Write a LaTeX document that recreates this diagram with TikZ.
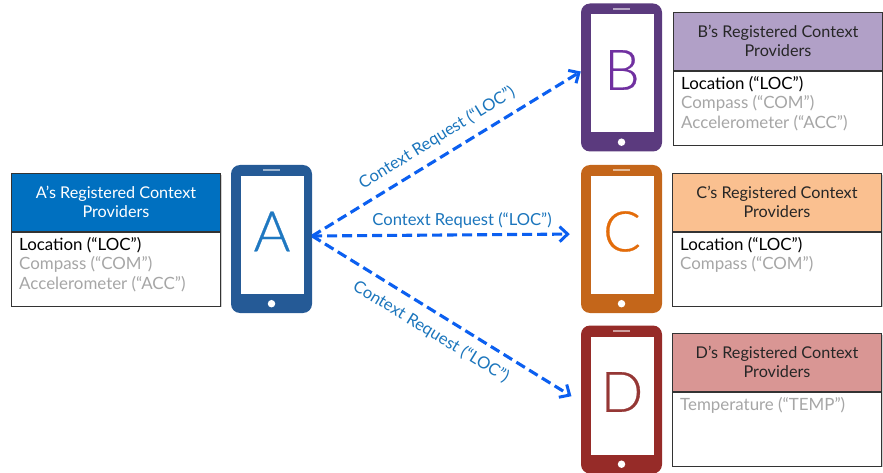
\documentclass[tikz,border=0pt]{standalone}
\usepackage{fontspec}
\setmainfont{Lato}
\newfontfamily\litef[FakeBold=0.5]{Lato Light}
\usetikzlibrary{arrows.meta,calc}
\definecolor{reqblue}{HTML}{0B5FF0}
\definecolor{lblblue}{HTML}{1B75BC}
\definecolor{greytxt}{HTML}{A6A6A6}
\definecolor{phA}{HTML}{255A96}
\definecolor{phB}{HTML}{5B3A7E}
\definecolor{phC}{HTML}{C4661A}
\definecolor{phD}{HTML}{962B28}
\definecolor{ltA}{HTML}{1F78C1}
\definecolor{ltB}{HTML}{7030A0}
\definecolor{ltC}{HTML}{E36C0A}
\definecolor{ltD}{HTML}{953735}
\definecolor{hdA}{HTML}{0070C0}
\definecolor{hdB}{HTML}{B1A0C7}
\definecolor{hdC}{HTML}{FAC090}
\definecolor{hdD}{HTML}{D99694}
\tikzset{
  x=1pt,y=-1pt,
  head/.style={draw=black!80,line width=1pt,anchor=north west,inner sep=0pt,align=center,
    minimum width=209pt,minimum height=58pt,font=\fontsize{16.2}{19.3}\selectfont},
  panel/.style={draw=black!80,line width=1pt,fill=white,anchor=north west,inner sep=0pt,
    minimum width=209pt,minimum height=74pt},
  provs/.style={anchor=north west,inner sep=0pt,align=left,text=greytxt,
    font=\fontsize{16.9}{19.6}\selectfont},
  phone/.style={fill=#1,rounded corners=9pt,minimum width=81pt,minimum height=148pt,inner sep=0pt},
  screen/.style={fill=white,minimum width=63pt,minimum height=118pt,inner sep=0pt},
  speaker/.style={fill=white,opacity=.55,minimum width=17pt,minimum height=2pt,inner sep=0pt},
  homebtn/.style={circle,fill=white,minimum size=7.5pt,inner sep=0pt},
  letter/.style={inner sep=0pt,font=\litef\fontsize{56}{56}\selectfont},
  req/.style={draw=reqblue,line width=3.1pt,dash pattern=on 10pt off 5pt,
    -{Straight Barb[length=8pt,width=15pt,line width=3pt]}},
  reqlbl/.style={text=lblblue,inner sep=0pt,font=\fontsize{16.6}{18}\selectfont},
  boxshade/.style={fill=black,opacity=.18,inner sep=0pt,anchor=north west,minimum width=209pt},
}
\newcommand{\blk}[1]{\textcolor{black}{#1}}
% name, centre x, centre y, phone colour, letter colour, letter
\newcommand{\mkphone}[6]{%
  \node[phone=#4] (#1) at (#2,#3) {};
  \node[screen] (#1s) at ($(#1.center)+(.5,-4)$) {};
  \node[speaker] (#1k) at ($(#1.north)+(0,5.5)$) {};
  \node[homebtn] (#1h) at ($(#1.south)+(0,-9.5)$) {};
  \node[letter,text=#5] (#1l) at ($(#1s.center)+(0,-3.5)$) {#6};
}
% name, x, top y, header colour, text colour, letter, body
\newcommand{\mkbox}[7]{%
  \node[boxshade,minimum height=132pt] at (#2+1.5,#3+1.5) {};
  \node[head,fill=#4,text=#5] (#1h) at (#2,#3) {\raisebox{1pt}{#6’s Registered Context}\\\raisebox{1pt}{Providers}};
  \node[panel] (#1b) at (#1h.south west) {};
  \node[provs] (#1t) at ($(#1b.north west)+(8,5)$) {#7};
}
\begin{document}
\begin{tikzpicture}
\useasboundingbox (0,0) rectangle (883,473);
\mkphone{pa}{271.5}{239}{phA}{ltA}{A}
\mkphone{pb}{621.5}{77.5}{phB}{ltB}{B}
\mkphone{pc}{621.5}{239}{phC}{ltC}{C}
\mkphone{pd}{621.5}{399.5}{phD}{ltD}{D}
\mkbox{ba}{11}{173}{hdA}{white}{A}{\blk{Location (“LOC”)}\\Compass (“COM”)\\Accelerometer (“ACC”)}
\mkbox{bb}{673}{12}{hdB}{black!85}{B}{\blk{Location (“LOC”)}\\Compass (“COM”)\\Accelerometer (“ACC”)}
\mkbox{bc}{672}{173}{hdC}{black!85}{C}{\blk{Location (“LOC”)}\\Compass (“COM”)}
\mkbox{bd}{672}{333}{hdD}{black!85}{D}{Temperature (“TEMP”)}
\draw[req] ([yshift=3pt]pa.east) -- ([yshift=6pt]pb.west);
\draw[req,shorten >=11pt] ([yshift=3pt]pa.east) -- ([yshift=5pt]pc.west);
\draw[req,shorten >=11pt] ([yshift=3pt]pa.east) -- ([yshift=-2.5pt]pd.west);
\node[reqlbl,rotate=31.5] (la) at (437,138) {Context Request (“LOC”)};
\node[reqlbl] (lb) at (462,220) {Context Request (“LOC”)};
\node[reqlbl,rotate=-31.5] (lc) at (431,332) {Context Request (“LOC”)};
\end{tikzpicture}
\end{document}
